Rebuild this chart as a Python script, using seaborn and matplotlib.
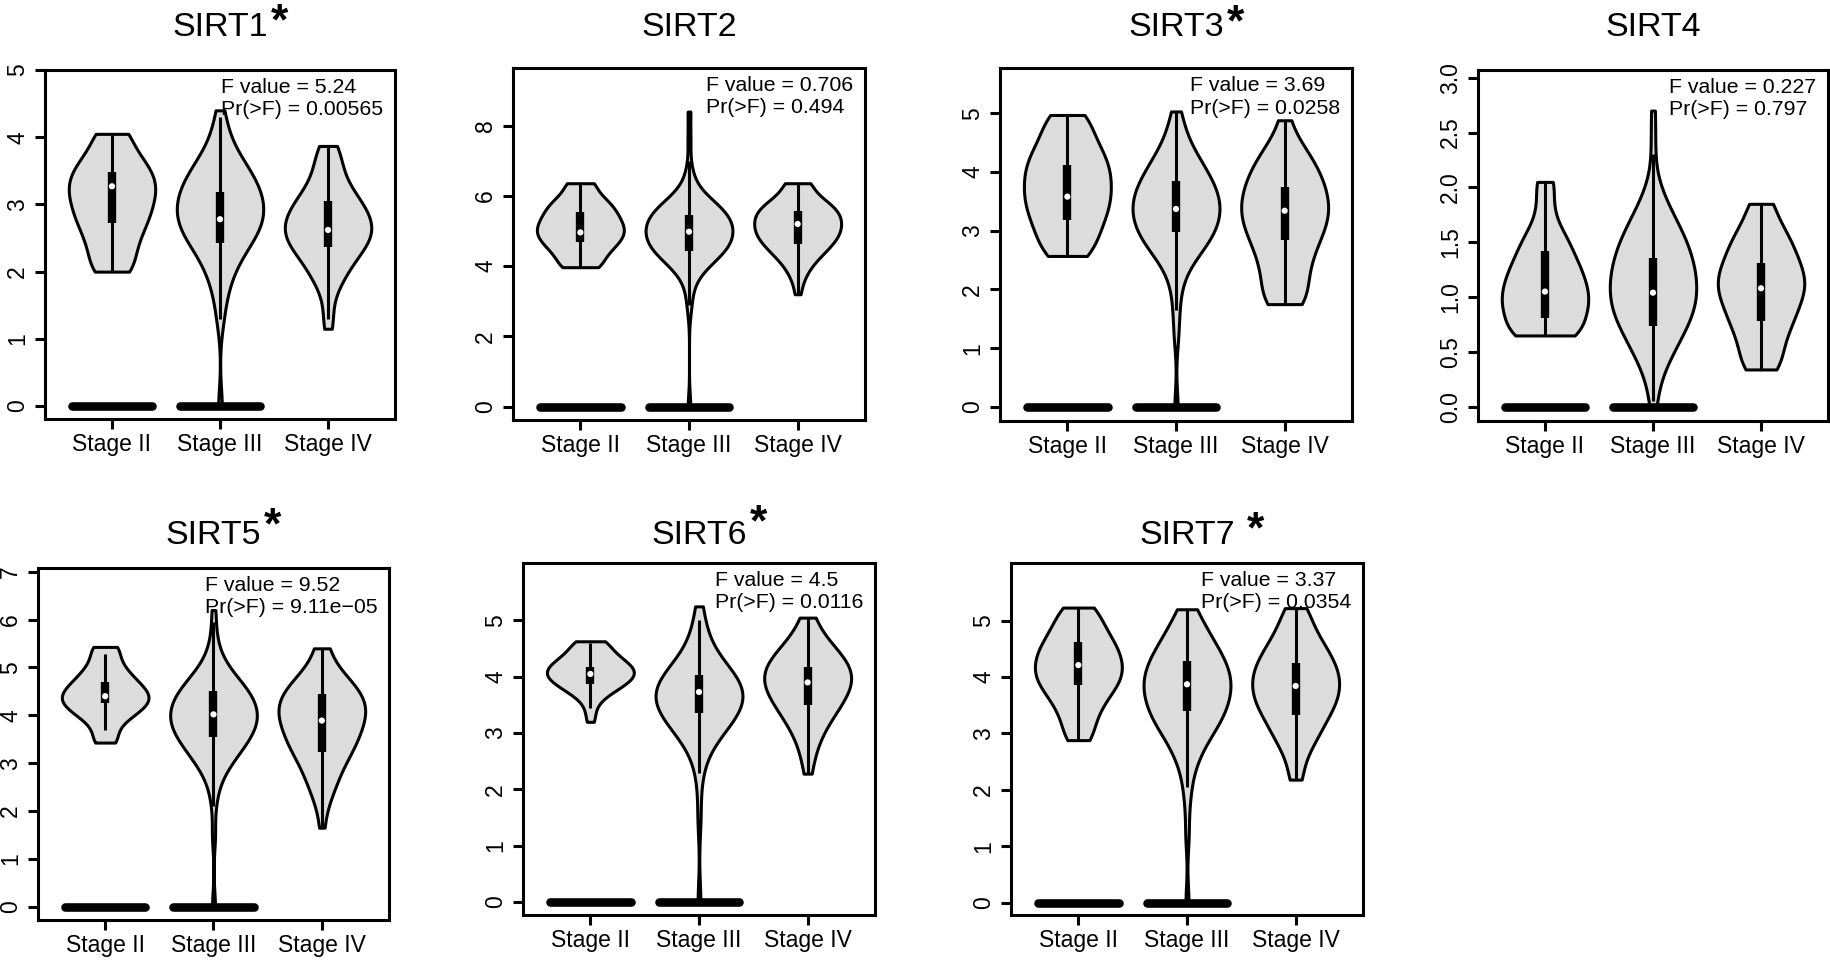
import numpy as np
import pandas as pd
import matplotlib
matplotlib.use("Agg")
import matplotlib.pyplot as plt
import seaborn as sns

# ---------------- data ----------------
stages = ["Stage II", "Stage III", "Stage IV"]
genes = ["SIRT1", "SIRT2", "SIRT3", "SIRT4", "SIRT5", "SIRT6", "SIRT7"]
significant = [True, False, True, False, True, True, True]
f_values = ["5.24", "0.706", "3.69", "0.227", "9.52", "4.5", "3.37"]
p_values = ["0.00565", "0.494", "0.0258", "0.797", "9.11e\u221205", "0.0116", "0.0354"]
y_ticks = [[0, 1, 2, 3, 4, 5], [0, 2, 4, 6, 8], [0, 1, 2, 3, 4, 5],
           [0.0, 0.5, 1.0, 1.5, 2.0, 2.5, 3.0], [0, 1, 2, 3, 4, 5, 6, 7],
           [0, 1, 2, 3, 4, 5], [0, 1, 2, 3, 4, 5]]
y_limits = [(-0.193, 5.0), (-0.38, 9.64), (-0.24, 5.77), (-0.13, 3.07),
            (-0.28, 7.08), (-0.23, 6.02), (-0.22, 6.02)]
zero_bar_stages = ["Stage II", "Stage III"]
zero_bar_value = 0.0

# expression levels and relative frequency (violin density) at each level
sirt1_levels = [[2.0, 2.25, 2.5, 2.75, 3.0, 3.25, 3.5, 3.75, 4.05],
                [0.0, 1.25, 1.5, 1.75, 2.0, 2.25, 2.5, 2.75, 3.0, 3.25, 3.5, 3.75, 4.0, 4.2, 4.4],
                [1.15, 1.35, 1.6, 1.8, 2.0, 2.25, 2.5, 2.75, 3.0, 3.25, 3.5, 3.7, 3.87]]
sirt1_counts = [[5, 5, 6, 8, 9, 10, 9, 6, 5],
                [1, 1, 1, 2, 3, 5, 8, 10, 10, 9, 7, 4, 2, 1, 1],
                [1, 1, 1, 2, 4, 7, 10, 10, 8, 5, 3, 2, 2]]
sirt2_levels = [[3.97, 4.25, 4.5, 4.75, 5.0, 5.25, 5.5, 5.75, 6.0, 6.36],
                [0.0, 2.8, 3.2, 3.5, 3.75, 4.0, 4.25, 4.5, 4.75, 5.0, 5.25, 5.5, 5.75, 6.0, 6.4, 6.8, 7.6, 8.4],
                [3.2, 3.5, 3.75, 4.0, 4.25, 4.5, 4.75, 5.0, 5.25, 5.5, 5.75, 6.0, 6.36]]
sirt2_counts = [[6, 5, 7, 9, 10, 9, 8, 7, 5, 5],
                [1, 1, 1, 1, 2, 4, 7, 9, 10, 10, 10, 9, 7, 4, 2, 1, 1, 1],
                [1, 1, 2, 3, 5, 7, 9, 10, 10, 10, 8, 5, 5]]
sirt3_levels = [[2.57, 2.8, 3.0, 3.25, 3.5, 3.75, 4.0, 4.25, 4.5, 4.75, 4.97],
                [0.0, 1.2, 1.6, 1.9, 2.2, 2.5, 2.75, 3.0, 3.25, 3.5, 3.75, 4.0, 4.25, 4.5, 4.8, 5.03],
                [1.75, 2.0, 2.25, 2.5, 2.75, 3.0, 3.25, 3.5, 3.75, 4.0, 4.25, 4.5, 4.88]]
sirt3_counts = [[6, 5, 7, 9, 10, 10, 10, 9, 7, 5, 5],
                [1, 1, 1, 1, 2, 4, 7, 9, 10, 10, 9, 7, 5, 3, 2, 1],
                [6, 5, 5, 6, 7, 9, 10, 10, 9, 8, 6, 4, 2]]
sirt4_levels = [[0.65, 0.8, 0.95, 1.1, 1.25, 1.4, 1.55, 1.7, 1.85, 2.05],
                [0.0, 0.15, 0.3, 0.45, 0.6, 0.75, 0.9, 1.05, 1.2, 1.35, 1.5, 1.65, 1.8, 1.95, 2.1, 2.4, 2.7],
                [0.34, 0.45, 0.6, 0.75, 0.9, 1.05, 1.2, 1.35, 1.5, 1.65, 1.85]]
sirt4_counts = [[9, 8, 10, 9, 8, 6, 5, 2, 2, 3],
                [1, 1, 2, 4, 6, 8, 10, 10, 10, 9, 8, 6, 4, 2, 1, 1, 1],
                [4, 4, 5, 7, 8, 10, 10, 8, 7, 5, 4]]
sirt5_levels = [[3.43, 3.6, 3.8, 4.0, 4.2, 4.4, 4.6, 4.8, 5.0, 5.2, 5.43],
                [0.0, 1.5, 2.2, 2.5, 2.75, 3.0, 3.25, 3.5, 3.75, 4.0, 4.25, 4.5, 4.75, 5.0, 5.3, 5.7, 6.2],
                [1.65, 2.0, 2.25, 2.5, 2.75, 3.0, 3.25, 3.5, 3.75, 4.0, 4.25, 4.5, 4.75, 5.0, 5.4]]
sirt5_counts = [[3, 2, 3, 6, 9, 10, 8, 6, 4, 3, 4],
                [1, 1, 1, 1, 2, 4, 6, 8, 10, 10, 10, 8, 6, 3, 2, 1, 1],
                [1, 1, 2, 3, 4, 5, 7, 8, 9, 10, 10, 9, 6, 4, 3]]
sirt6_levels = [[3.2, 3.35, 3.5, 3.65, 3.8, 3.95, 4.1, 4.25, 4.4, 4.55, 4.63],
                [0.0, 1.5, 2.2, 2.5, 2.75, 3.0, 3.25, 3.5, 3.75, 4.0, 4.25, 4.5, 4.75, 5.0, 5.25],
                [2.28, 2.5, 2.75, 3.0, 3.25, 3.5, 3.75, 4.0, 4.25, 4.5, 4.75, 5.05]]
sirt6_counts = [[1, 1, 1, 3, 6, 9, 10, 8, 5, 3, 3],
                [1, 1, 1, 1, 2, 5, 8, 10, 11, 9, 5, 2, 2, 1, 1],
                [1, 1, 2, 3, 5, 7, 9, 10, 9, 6, 3, 2]]
sirt7_levels = [[2.88, 3.1, 3.3, 3.5, 3.75, 4.0, 4.25, 4.5, 4.75, 5.0, 5.23],
                [0.0, 1.2, 1.8, 2.1, 2.4, 2.7, 3.0, 3.25, 3.5, 3.75, 4.0, 4.25, 4.5, 4.75, 5.0, 5.2],
                [2.18, 2.4, 2.6, 2.8, 3.0, 3.25, 3.5, 3.75, 4.0, 4.25, 4.5, 4.75, 5.0, 5.22]]
sirt7_counts = [[3, 3, 3, 5, 8, 10, 10, 9, 7, 5, 4],
                [1, 1, 1, 1, 2, 4, 6, 8, 9, 10, 10, 9, 7, 5, 3, 2],
                [2, 1, 2, 3, 5, 7, 9, 10, 10, 9, 7, 5, 3, 3]]

# box statistics per stage: [whisker low, Q1, median, Q3, whisker high]
sirt1_box = [[2.0, 2.72, 3.27, 3.48, 4.05], [1.3, 2.43, 2.78, 3.18, 4.3], [1.3, 2.36, 2.62, 3.05, 3.87]]
sirt2_box = [[3.97, 4.68, 4.96, 5.53, 6.36], [2.9, 4.43, 4.98, 5.46, 7.0], [3.2, 4.62, 5.2, 5.57, 6.36]]
sirt3_box = [[2.57, 3.18, 3.58, 4.12, 4.97], [1.65, 2.97, 3.37, 3.85, 5.03], [1.75, 2.85, 3.34, 3.75, 4.88]]
sirt4_box = [[0.65, 0.81, 1.05, 1.42, 2.05], [0.05, 0.74, 1.04, 1.36, 2.3], [0.34, 0.78, 1.08, 1.31, 1.85]]
sirt5_box = [[3.69, 4.25, 4.4, 4.7, 5.28], [2.1, 3.55, 4.02, 4.51, 5.95], [1.65, 3.24, 3.89, 4.44, 5.4]]
sirt6_box = [[3.45, 3.88, 4.05, 4.18, 4.6], [2.3, 3.36, 3.73, 4.04, 5.0], [2.28, 3.49, 3.9, 4.18, 5.05]]
sirt7_box = [[2.88, 3.85, 4.21, 4.62, 5.23], [2.05, 3.39, 3.87, 4.28, 5.2], [2.18, 3.32, 3.84, 4.24, 5.22]]

all_levels = [sirt1_levels, sirt2_levels, sirt3_levels, sirt4_levels, sirt5_levels, sirt6_levels, sirt7_levels]
all_counts = [sirt1_counts, sirt2_counts, sirt3_counts, sirt4_counts, sirt5_counts, sirt6_counts, sirt7_counts]
all_boxes = [sirt1_box, sirt2_box, sirt3_box, sirt4_box, sirt5_box, sirt6_box, sirt7_box]

# ---------------- layout / style ----------------
W, H = 1831, 961
panel_px = [(45, 70, 395, 419), (513, 68, 865, 420), (1000, 68, 1352, 421), (1478, 70, 1828, 421),
            (38, 568, 389, 920), (523, 563, 875, 915), (1011, 563, 1363, 915)]
title_pad_pt = [24.5, 23, 23, 24.5, 17.3, 13.7, 13.7]
star_offset_px = [(3, 9), None, (3, 8), None, (3, 13), (3, 15.5), (12, 9)]
bw_factor = [0.35, 0.35, 0.35, 0.35, 0.35, 0.45, 0.35]
FILL = "#dcdcdc"
LW = 2.2

sns.set_style("ticks")
plt.rcParams["font.family"] = ["Liberation Sans", "DejaVu Sans"]

fig = plt.figure(figsize=(W / 100, H / 100), dpi=100)

for g, gene in enumerate(genes):
    l, t, r, b = panel_px[g]
    ax = fig.add_axes([l / W, 1 - b / H, (r - l) / W, (b - t) / H])

    rows = []
    for s, stage in enumerate(stages):
        vals = np.repeat(all_levels[g][s], all_counts[g][s])
        rows.append(pd.DataFrame({"stage": stage, "value": vals}))
    df = pd.concat(rows, ignore_index=True)

    sns.violinplot(data=df, x="stage", y="value", order=stages, color=FILL, saturation=1,
                   linecolor="black", linewidth=LW, inner=None, cut=0, density_norm="width",
                   width=0.8, bw_method=bw_factor[g], ax=ax)

    # box / whiskers / median as in R vioplot
    for s, (lo, q1, med, q3, hi) in enumerate(all_boxes[g]):
        ax.vlines(s, lo, hi, color="black", lw=LW, zorder=3)
        ax.vlines(s, q1, q3, color="black", lw=6.0, zorder=4)
        ax.scatter([s], [med], s=20, color="white", edgecolors="none", zorder=5)

    # thick bars at zero
    for stage in zero_bar_stages:
        s = stages.index(stage)
        ax.plot([s - 0.37, s + 0.37], [zero_bar_value, zero_bar_value], color="black",
                lw=6.2, solid_capstyle="round", zorder=3)

    ax.set_xlim(-0.62, 2.62)
    ax.set_ylim(*y_limits[g])
    ax.set_xlabel("")
    ax.set_ylabel("")
    ax.set_xticks(range(len(stages)))
    ax.set_xticklabels(stages)
    ax.set_yticks(y_ticks[g])
    if gene == "SIRT4":
        ax.set_yticklabels([f"{v:.1f}" for v in y_ticks[g]])
    else:
        ax.set_yticklabels([f"{v:g}" for v in y_ticks[g]])
    for lab in ax.get_yticklabels():
        lab.set_rotation(90)
        lab.set_va("center")
    for sp in ax.spines.values():
        sp.set_visible(True)
        sp.set_linewidth(LW)
        sp.set_color("black")
    ax.tick_params(axis="both", direction="out", length=7, width=LW, color="black",
                   labelsize=16.5, labelcolor="black")
    ax.tick_params(axis="x", pad=3.3)
    ax.tick_params(axis="y", pad=4.4)

    ax.text(0.967, 0.978, f"F value = {f_values[g]}\nPr(>F) = {p_values[g]}",
            transform=ax.transAxes, ha="right", va="top", multialignment="left",
            fontsize=15.3, linespacing=1.25, color="black", zorder=6)

    title = ax.set_title(gene, fontsize=24.5, pad=title_pad_pt[g], color="black")
    if significant[g]:
        dx, dy = star_offset_px[g]
        ax.annotate("*", xy=(1, 0), xycoords=title, xytext=(dx, dy),
                    textcoords="offset pixels", ha="left", va="baseline",
                    fontsize=32, fontweight="bold", color="black")

fig.savefig("out.png", dpi=100)
